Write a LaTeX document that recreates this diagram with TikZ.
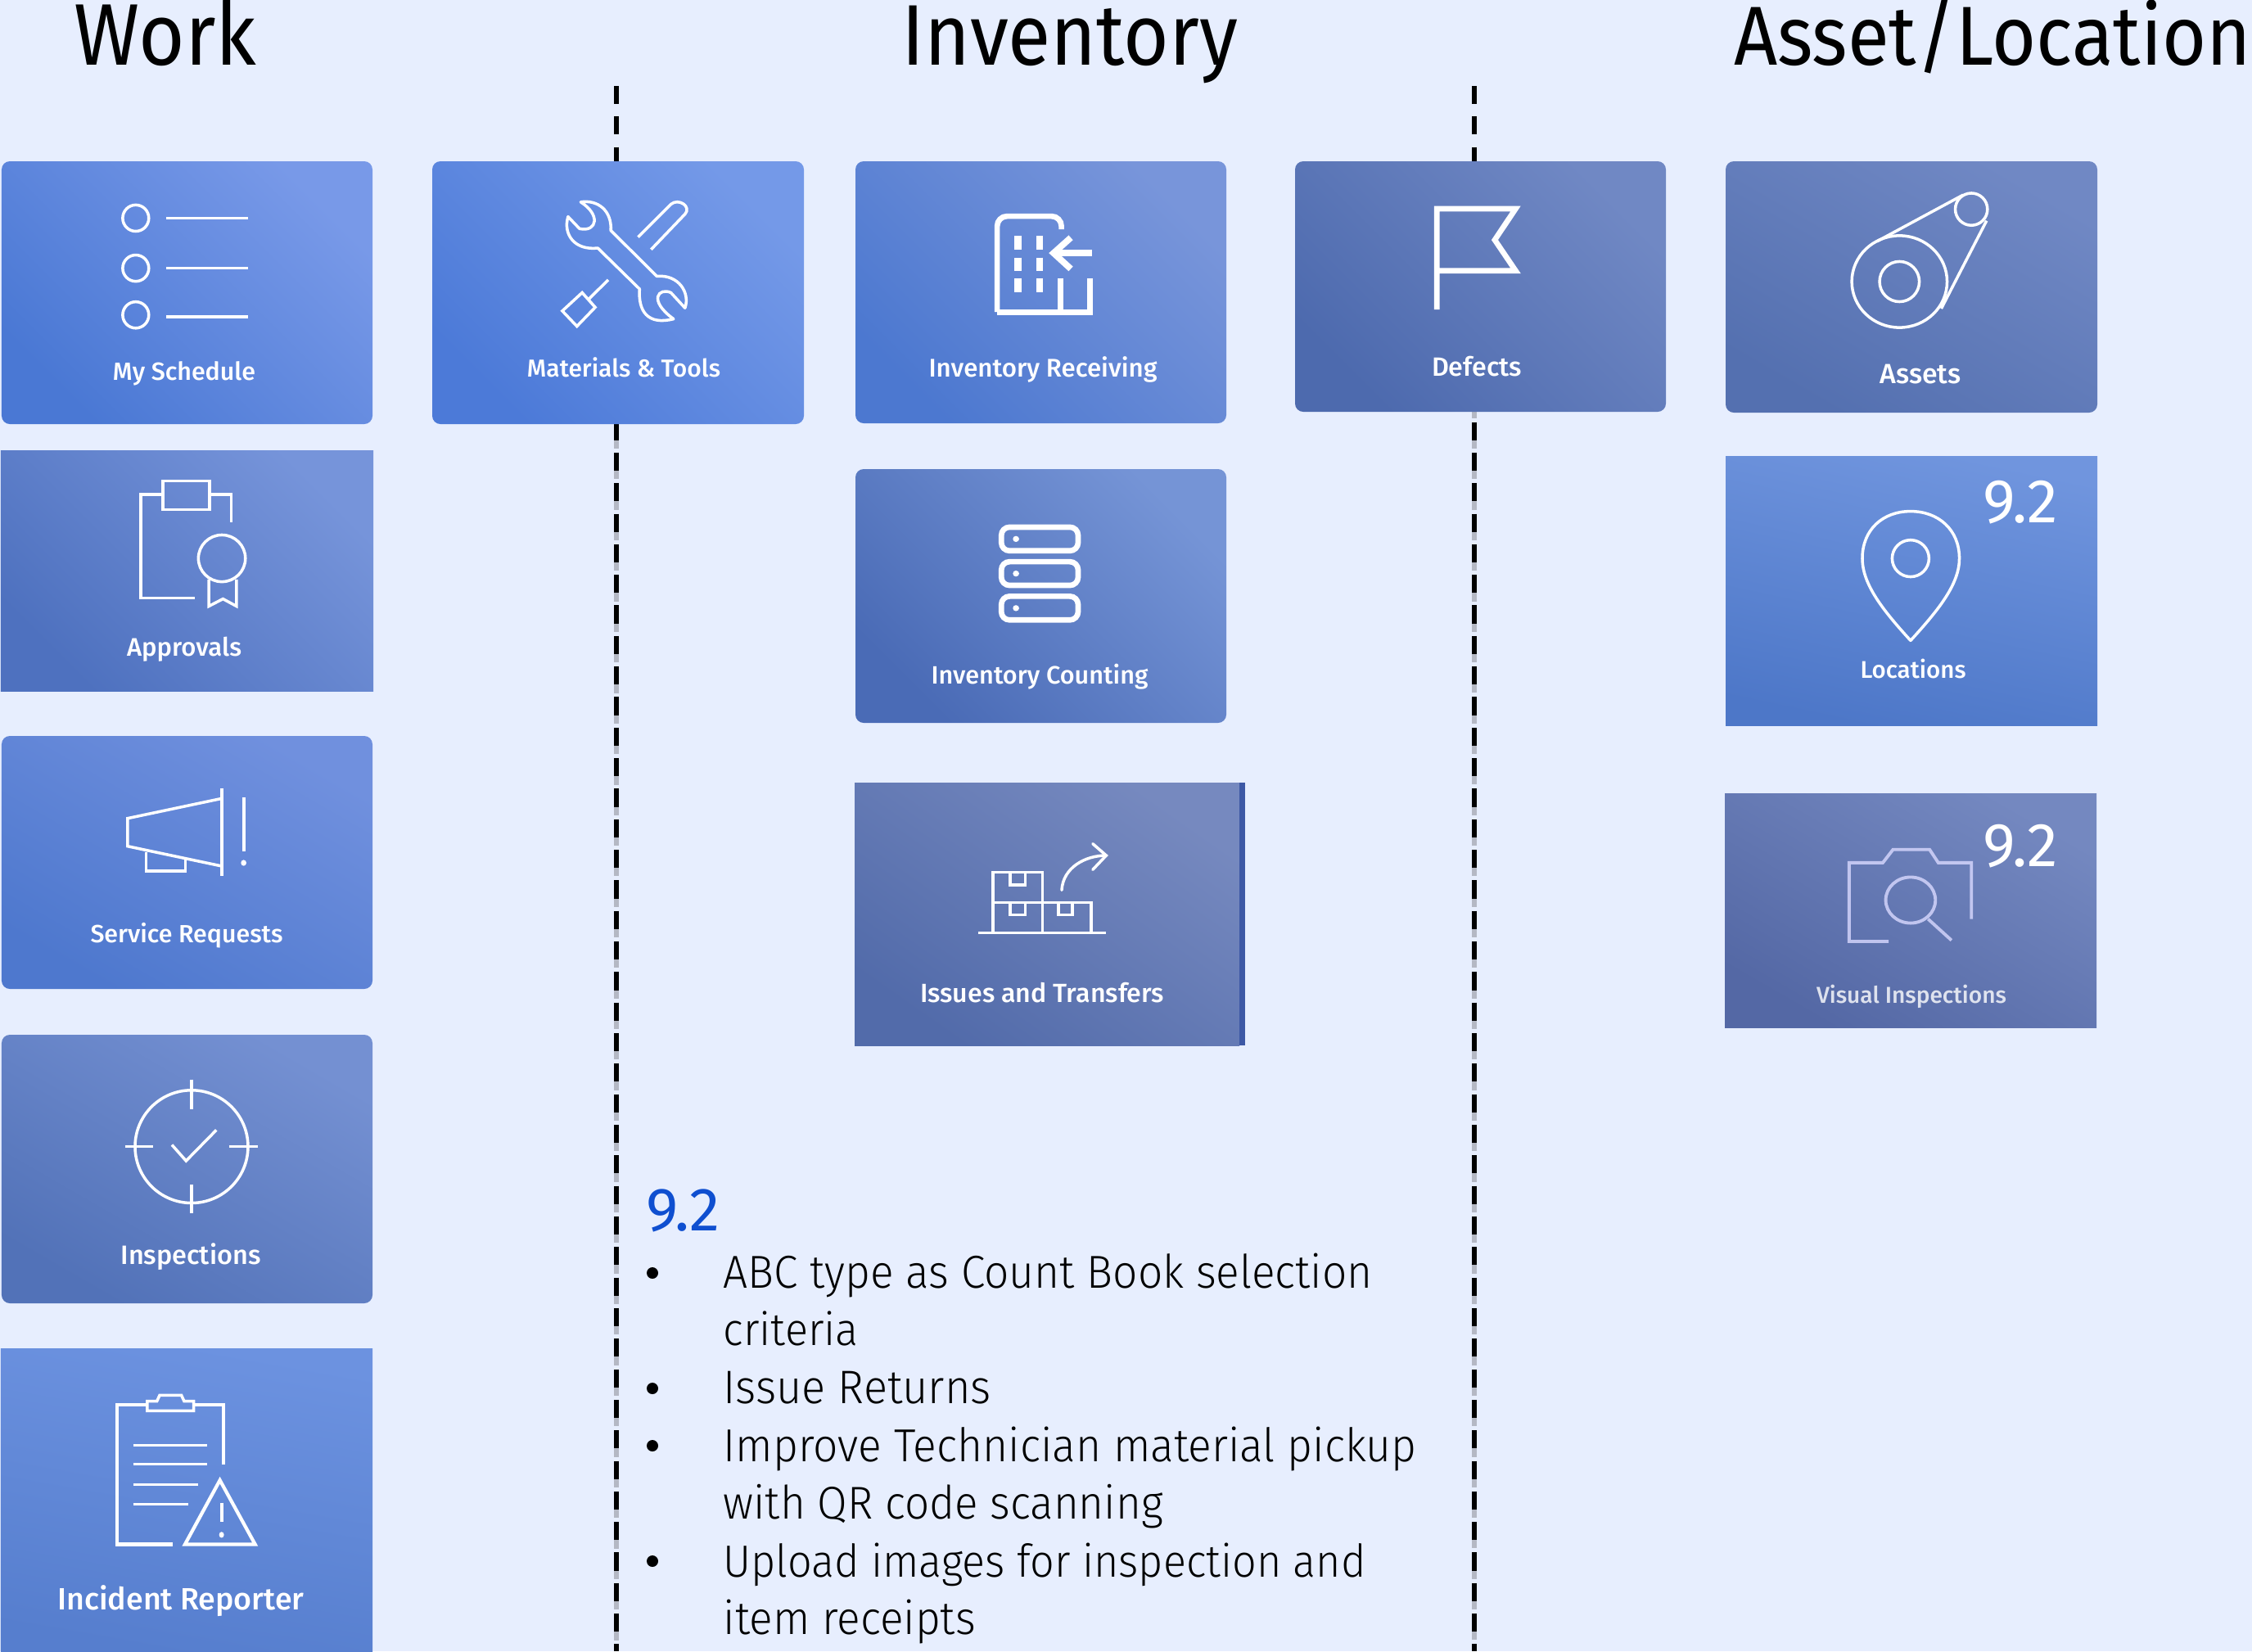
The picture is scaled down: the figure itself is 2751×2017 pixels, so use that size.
\documentclass[tikz,border=0pt]{standalone}
\usepackage{graphicx}
\usepackage{fontspec}
\setmainfont{Fira Sans}
\newfontfamily\labf{Fira Sans Medium}
\newfontfamily\bodyf{Fira Sans Light}
\newlength{\fitlen}
\newcommand{\fitbox}[2]{\pgfmathsetlength{\fitlen}{#1*0.01cm}\resizebox{\fitlen}{!}{#2}}
\newcommand{\card}[9]{%
  \definecolor{lo#1}{HTML}{#6}\definecolor{hi#1}{HTML}{#7}%
  \node[cardbox, top color=hi#1, bottom color=lo#1, shading angle=#8, rounded corners=#9,
    minimum width={(#4-#2)*0.01cm}, minimum height={(#5-#3)*0.01cm}]
    (#1) at ({(#2+#4)/2},{(#3+#5)/2}) {};}
\newcommand{\lab}[5]{\node[cardtext] (#1) at (#2,#3) {\fitbox{#4}{\labf #5}};}
\newcommand{\bodyl}[5]{\node[bodytext] (#1) at (#2,#3) {\scalebox{1}[1.06]{\fitbox{#4}{\bodyf #5}}};}
\definecolor{bgc}{HTML}{E7EEFE}
\definecolor{blue92}{HTML}{0F4FD0}
\definecolor{stripc}{HTML}{3D58A5}
\definecolor{dashgrey}{HTML}{B4B8C4}
\begin{document}
\begin{tikzpicture}[x=0.01cm,y=-0.01cm,
  cardbox/.style={inner sep=0pt,outer sep=0pt,shade},
  cardtext/.style={inner sep=0pt,text=white,anchor=center},
  bodytext/.style={inner sep=0pt,anchor=base west,text=black},
  titletext/.style={inner sep=0pt,anchor=base,text=black},
  thinline/.style={draw=white,line width=1pt,line join=miter},
  thickline/.style={draw=white,line width=1.9pt,line join=miter},
  softline/.style={draw=white!85!blue,line width=1.1pt},
  zA/.style={shift={(0,170)},xscale=0.6378,yscale=0.4464},
  zB/.style={shift={(0,880)},xscale=0.3333,yscale=0.7251},
  zC/.style={shift={(1000,170)},xscale=0.6378,yscale=0.4592},
  zD/.style={shift={(1000,900)},xscale=0.3827,yscale=0.3333},
  zE/.style={shift={(2050,170)},xscale=0.3571,yscale=0.7015},
  sep/.style={black,line width=1.7pt,dash pattern=on 6.3pt off 4.313pt},
  sepgrey/.style={dashgrey,line width=1.7pt,dash pattern=on 3pt off 7.613pt}]
\fill[bgc] (0,0) rectangle (2751,2017);
\useasboundingbox (0,0) rectangle (2751,2017);
% separators
\coordinate (s1a) at (752.6,105);\coordinate (s1b) at (752.6,2017);
\coordinate (s2a) at (1800.8,105);\coordinate (s2b) at (1800.8,2017);
\coordinate (g1a) at (752.6,537.4);\coordinate (g2a) at (1800.8,500);
\draw[sepgrey] (g1a) -- (s1b);
\draw[sepgrey] (g2a) -- (s2b);
\draw[sep] (s1a) -- (s1b);
\draw[sep] (s2a) -- (s2b);
% titles
\node[titletext] (tw) at (202,79) {\scalebox{1}[1.1]{\fitbox{223}{Work}}};
\node[titletext] (ti) at (1307,79) {\scalebox{1}[1.1]{\fitbox{411}{Inventory}}};
\node[titletext] (ta) at (2434,79) {\scalebox{1}[1.1]{\fitbox{632}{Asset/Location}}};
% cards
\card{schedule}{2}{197}{455}{518}{4A78D4}{7899E8}{-45}{1mm}
\card{materials}{528}{197}{982}{518}{4C7AD8}{7499E8}{-45}{1mm}
\card{approvals}{1}{550}{456}{844}{4E71BF}{7694DA}{-45}{0mm}
\card{service}{2}{899}{455}{1208}{4E78CE}{7090DE}{-30}{1mm}
\card{inspect}{2}{1264}{455}{1592}{5272B8}{7490D2}{-30}{1mm}
\card{incident}{1}{1647}{455}{2017}{567ECE}{6C92E0}{-10}{0mm}
\card{receiving}{1045}{197}{1498}{517}{4C78D0}{7895DA}{-45}{1mm}
\card{counting}{1045}{573}{1498}{883}{4A6BB6}{7594D6}{-45}{1mm}
\card{defects}{1582}{197}{2035}{503}{4D6AAE}{7088C4}{-45}{1mm}
\card{issues}{1044}{956}{1514}{1277}{526BAA}{7689BF}{-35}{0mm}
\fill[stripc] (issues.north east) rectangle ([xshift=0.07cm]issues.south east);
\card{assets}{2108}{197}{2562}{504}{5470B0}{7088C4}{-30}{1mm}
\card{locations}{2108}{557}{2562}{886}{4D77C8}{7095DE}{-12}{0mm}
\card{visual}{2107}{969}{2561}{1255}{5468A5}{7488C0}{-30}{0mm}
% labels
\lab{lschedule}{225}{456}{174}{My Schedule}
\lab{lmaterials}{762}{449}{236}{Materials \& Tools}
\lab{lapprovals}{225}{793}{140}{Approvals}
\lab{lservice}{228}{1143}{235}{Service Requests}
\lab{linspect}{233}{1535}{171}{Inspections}
\lab{lincident}{221}{1956}{301}{Incident Reporter}
\lab{lreceiving}{1274}{451}{279}{Inventory Receiving}
\lab{lcounting}{1270}{827}{265}{Inventory Counting}
\lab{ldefects}{1804}{448}{110}{Defects}
\lab{lissues}{1273}{1213}{298}{Issues and Transfers}
\lab{lassets}{2346}{457}{99}{Assets}
\lab{llocations}{2337}{817}{129}{Locations}
\node[cardtext,text opacity=0.8] (lvisual) at (2335,1217) {\fitbox{232}{\labf Visual Inspections}};
% 9.2 badges
\node[inner sep=0pt,text=white,anchor=base] (bloc) at (2468,638) {\fitbox{91}{9.2}};
\node[inner sep=0pt,text=white,anchor=base] (bvis) at (2468,1058) {\fitbox{91}{9.2}};
% body text
\node[bodytext,text=blue92] (v92) at (789,1503) {\fitbox{90}{9.2}};
\bodyl{t1}{883}{1573}{793}{ABC type as Count Book selection}
\bodyl{t2}{883}{1643.5}{165}{criteria}
\bodyl{t3}{883}{1714}{327}{Issue Returns}
\bodyl{t4}{883}{1785}{847}{Improve Technician material pickup}
\bodyl{t5}{883}{1855}{537}{with QR code scanning}
\bodyl{t6}{883}{1926}{785}{Upload images for inspection and}
\bodyl{t7}{883}{1996}{308}{item receipts}
\foreach \yy in {1555,1696,1766,1907}{\fill[black] (797,\yy) circle[radius=7];}
% --- icons ---
\begin{scope}[zA]
 % schedule
 \foreach \yy/\yl in {216/216,353/353,481/486}{
  \draw[thinline] (260,\yy) ellipse[x radius=25,y radius=36];
  \draw[thinline] (318,\yl) -- (475,\yl);}
 % wrench
 \draw[thinline,line join=round] (1112,172) .. controls (1145,165) and (1172,195) .. (1170,250)
   -- (1258,375) .. controls (1300,370) and (1322,420) .. (1312,462) -- (1285,420)
   .. controls (1262,405) and (1240,440) .. (1290,492) .. controls (1240,510) and (1222,470) .. (1225,410)
   -- (1145,298) .. controls (1100,305) and (1078,260) .. (1088,212) -- (1110,245)
   .. controls (1145,255) and (1150,205) .. cycle;
 \draw[thinline,line join=round] (1222,268) -- (1285,178) .. controls (1300,160) and (1325,185) .. (1312,205) -- (1247,302);
 \draw[thinline] (1165,385) -- (1128,437);
 \draw[thinline] (1115,420) -- (1140,460) -- (1105,512) -- (1077,470) -- cycle;
 % approvals
 \draw[thinline] (373,1256) -- (270,1256) -- (270,972) -- (312,972);
 \draw[thinline] (312,935) rectangle (401,1014);
 \draw[thinline] (401,972) -- (443,972) -- (443,1048);
 \draw[thinline] (425,1147) ellipse[x radius=45,y radius=64];
 \draw[thinline] (400,1205) -- (400,1278) -- (427,1258) -- (453,1278) -- (453,1205);
\end{scope}
\begin{scope}[zB]
 % service
 \draw[thinline] (808,132) -- (468,165) -- (468,212) -- (808,245);
 \draw[thinline,line width=1.2pt] (814,115) -- (814,262);
 \draw[thinline] (535,222) -- (535,254) -- (680,254) -- (680,235);
 \draw[thinline,line width=1.2pt] (893,130) -- (893,220);
 \fill[white] (893,240) ellipse[x radius=10,y radius=5];
 % inspections
 \draw[thinline] (702,718) ellipse[x radius=207,y radius=95];
 \draw[thinline] (702,605) -- (702,655);
 \draw[thinline] (702,782) -- (702,830);
 \draw[thinline] (458,718) -- (562,718);
 \draw[thinline] (840,718) -- (945,718);
 \draw[thinline] (630,715) -- (682,742) -- (793,690);
 % incident
 \draw[thinline,line width=1.2pt] (633,1388) -- (430,1388) -- (430,1153) -- (540,1153);
 \draw[thinline] (540,1163) -- (540,1147) -- (575,1147) -- (585,1137) -- (665,1137) -- (675,1147) -- (710,1147) -- (710,1163) -- cycle;
 \draw[thinline,line width=1.2pt] (710,1153) -- (820,1153) -- (820,1253);
 \draw[thinline,line width=0.9pt] (488,1221) -- (760,1221);
 \draw[thinline,line width=0.9pt] (488,1253) -- (760,1253);
 \draw[thinline,line width=0.9pt] (488,1287) -- (725,1287);
 \draw[thinline,line width=0.9pt] (488,1320) -- (690,1320);
 \draw[thinline,line width=1.2pt] (806,1280) -- (935,1388) -- (678,1388) -- cycle;
 \draw[thinline,line width=1.2pt] (812,1318) -- (812,1350);
 \fill[white] (812,1372) ellipse[x radius=9,y radius=5];
\end{scope}
\begin{scope}[zC]
 % receiving
 \draw[thickline,rounded corners=1.2mm] (465,240) -- (465,205) -- (342,205) -- (342,460);
 \draw[thickline] (342,460) -- (520,460) -- (520,370);
 \draw[thickline] (463,370) -- (463,460);
 \foreach \xx in {382,423}{\foreach \ya/\yb in {258/295,315/350,370/407}{
   \draw[thickline,line width=2.4pt] (\xx,\ya) -- (\xx,\yb);}}
 \draw[thickline,line width=2.2pt] (523,303) -- (452,303);
 \draw[thickline,line width=2.2pt] (483,262) -- (450,303) -- (483,345);
 % counting
 \foreach \ya/\yb in {1032/1095,1124/1187,1216/1279}{
   \draw[thickline,rounded corners=1mm] (350,\ya) rectangle (497,\yb);
   \fill[white] (378,{(\ya+\yb)/2}) ellipse[x radius=6,y radius=8];}
 % defects
 \draw[thickline] (1184,453) -- (1184,185) -- (1335,185) -- (1295,268) -- (1335,350) -- (1184,350);
\end{scope}
\begin{scope}[zD]
 \draw[thinline] (510,718) -- (918,718);
 \draw[thinline] (557,718) -- (557,497) -- (714,497) -- (714,718);
 \draw[thinline] (557,607) -- (870,607) -- (870,718);
 \draw[thinline] (612,497) -- (612,543) -- (660,543) -- (660,497);
 \draw[thinline] (612,607) -- (612,652) -- (660,652) -- (660,607);
 \draw[thinline] (765,607) -- (765,652) -- (810,652) -- (810,607);
 \draw[thinline,line cap=round] (776,562) .. controls (780,480) and (850,435) .. (918,435);
 \draw[thinline,line cap=round] (875,392) -- (918,435) -- (875,487);
\end{scope}
\begin{scope}[zE]
 % assets
 \draw[thinline] (757,248) ellipse[x radius=163,y radius=80];
 \draw[thinline] (757,248) ellipse[x radius=68,y radius=35];
 \draw[thinline] (1003,122) ellipse[x radius=55,y radius=28];
 \draw[thinline] (680,178) -- (975,97);
 \draw[thinline] (1055,142) -- (900,295);
 % location pin
 \draw[thinline,line join=round] (795,873) .. controls (700,820) and (630,775) .. (630,730)
   .. controls (630,680) and (700,648) .. (795,648) .. controls (890,648) and (962,680) .. (962,730)
   .. controls (962,775) and (890,820) .. cycle;
 \draw[thinline] (795,730) ellipse[x radius=63,y radius=32];
 % camera
 \begin{scope}[opacity=0.8]
 \draw[softline] (720,1397) -- (585,1397) -- (585,1260) -- (700,1260) -- (735,1237) -- (860,1237) -- (890,1260) -- (1003,1260) -- (1003,1358);
 \draw[softline] (795,1325) ellipse[x radius=85,y radius=40];
 \draw[softline] (855,1358) -- (935,1395);
 \end{scope}
\end{scope}
\end{tikzpicture}
\end{document}
